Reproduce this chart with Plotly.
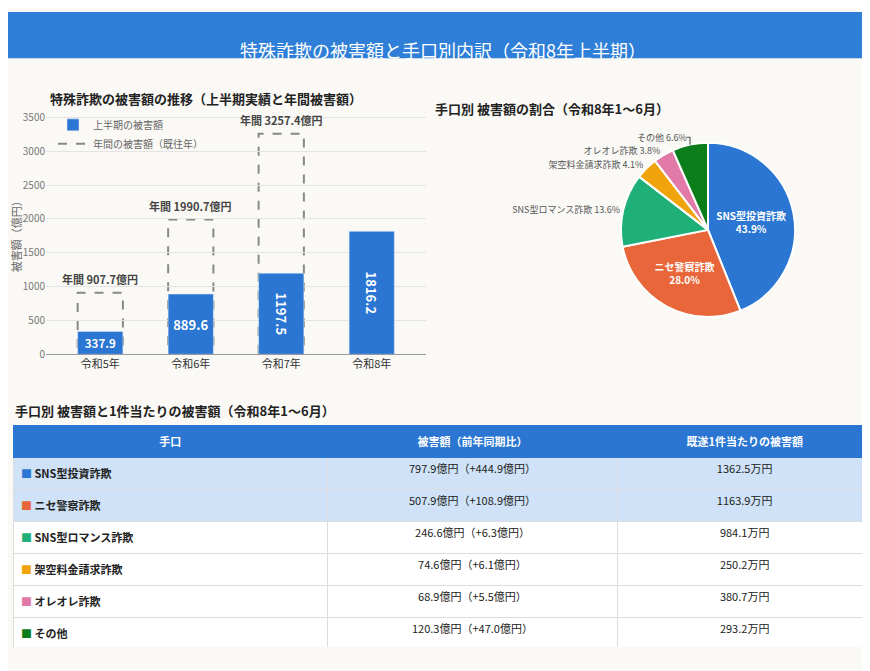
import plotly.graph_objects as go

years = ["令和5年", "令和6年", "令和7年", "令和8年"]
half = [337.9, 889.6, 1197.5, 1816.2]
annual = [907.7, 1990.7, 3257.4, None]

pie_labels = ["SNS型投資詐欺", "ニセ警察詐欺", "SNS型ロマンス詐欺", "架空料金請求詐欺", "オレオレ詐欺", "その他"]
pie_values = [797.9, 507.9, 246.6, 74.6, 68.9, 120.3]
colors = ["#2a76d2", "#e8663a", "#1fb07a", "#f0a30a", "#e27aa8", "#0b7d1a"]

t_method = pie_labels + ["合計"]
t_amount = ["797.9億円（+444.9億円）", "507.9億円（+108.9億円）", "246.6億円（+6.3億円）",
            "74.6億円（+6.1億円）", "68.9億円（+5.5億円）", "120.3億円（+47.0億円）",
            "<b>1816.2億円（+618.8億円）</b>"]
t_per = ["1362.5万円", "1163.9万円", "984.1万円", "250.2万円", "380.7万円", "293.2万円", "<b>840.0万円</b>"]

FONT = "Noto Sans CJK JP"
W, H = 870, 671
def py(v): return 1 - v / H
def px(v): return v / W

fig = go.Figure()
fig.add_trace(go.Bar(x=list(range(4)), y=half, width=0.5, marker_color="#2a76d2",
                     name="上半期の被害額", text=[f"<b>{v}</b>" for v in half],
                     textposition="inside", insidetextanchor="middle",
                     textfont=dict(color="white", size=13), xaxis="x", yaxis="y"))
fig.add_trace(go.Scatter(x=[None], y=[None], mode="lines", name="年間の被害額（既往年）",
                         line=dict(color="#888", dash="dash", width=2)))
shapes = []
annots = []
for i, a in enumerate(annual):
    if a is None:
        continue
    shapes.append(dict(type="rect", xref="x", yref="y", x0=i - 0.25, x1=i + 0.25, y0=0, y1=a,
                       line=dict(color="#888", dash="dash", width=2), layer="below"))
    annots.append(dict(x=i, y=a, xref="x", yref="y", text=f"<b>年間 {a}億円</b>", showarrow=False,
                       yshift=14, font=dict(size=11, color="#444")))

fig.add_trace(go.Pie(labels=pie_labels, values=pie_values, sort=False, direction="clockwise",
                     marker=dict(colors=colors, line=dict(color="white", width=2)),
                     textinfo="label+percent",
                     texttemplate=["<b>%{label}<br>%{percent:.1%}</b>", "<b>%{label}<br>%{percent:.1%}</b>",
                                   "%{label} %{percent:.1%}", "%{label} %{percent:.1%}",
                                   "%{label} %{percent:.1%}", "%{label} %{percent:.1%}"],
                     textposition=["inside", "inside", "outside", "outside", "outside", "outside"],
                     insidetextorientation="horizontal",
                     insidetextfont=dict(color="white", size=10),
                     outsidetextfont=dict(color="#555", size=9),
                     showlegend=False,
                     domain=dict(x=[px(612), px(788)], y=[py(310), py(133)])))

def sq(i):
    if i < len(colors):
        return f"<span style='color:{colors[i]}'>■</span> <b>{t_method[i]}</b>"
    return "<b>合計</b>"

fills = []
for i in range(7):
    fills.append("#cfe2f7" if i < 2 else ("#eef0ec" if i == 6 else "white"))
fig.add_trace(go.Table(
    domain=dict(x=[px(5), px(865)], y=[py(646), py(420)]),
    columnwidth=[315, 290, 255],
    header=dict(values=["<b>手口</b>", "<b>被害額（前年同期比）</b>", "<b>既遂1件当たりの被害額</b>"],
                fill_color="#2a76d2", font=dict(color="white", size=11, family=FONT),
                align="center", height=30, line=dict(color="#2a76d2")),
    cells=dict(values=[[sq(i) for i in range(7)], t_amount, t_per],
               fill_color=[fills, fills, fills], align=["left", "center", "center"],
               font=dict(color="#222", size=11, family=FONT), height=28,
               line=dict(color="#dddddd"))))

shapes.append(dict(type="rect", xref="paper", yref="paper", x0=0, x1=1, y0=py(47), y1=1,
                   fillcolor="#2f7fd8", line_width=0, layer="below"))
annots += [
    dict(x=0.5, y=py(23), xref="paper", yref="paper", text="特殊詐欺の被害額と手口別内訳（令和8年上半期）",
         showarrow=False, font=dict(color="white", size=18)),
    dict(x=px(40), y=py(76), xref="paper", yref="paper", xanchor="left",
         text="<b>特殊詐欺の被害額の推移（上半期実績と年間被害額）</b>", showarrow=False, font=dict(size=13, color="#222")),
    dict(x=px(663), y=py(86), xref="paper", yref="paper",
         text="<b>手口別 被害額の割合（令和8年1〜6月）</b>", showarrow=False, font=dict(size=13, color="#222")),
    dict(x=px(5), y=py(405), xref="paper", yref="paper", xanchor="left",
         text="<b>手口別 被害額と1件当たりの被害額（令和8年1〜6月）</b>", showarrow=False, font=dict(size=13, color="#222")),
]

fig.update_layout(
    width=W, height=H, margin=dict(l=0, r=0, t=0, b=0),
    paper_bgcolor="#faf9f5", plot_bgcolor="#faf9f5",
    font=dict(family=FONT, color="#333"),
    xaxis=dict(domain=[px(38), px(418)], tickmode="array", tickvals=list(range(4)), ticktext=years,
               range=[-0.6, 3.6], showline=True, linecolor="#999", tickfont=dict(size=11, color="#333")),
    yaxis=dict(domain=[py(348), py(103)], range=[0, 3560], dtick=500, gridcolor="#e4e4e4",
               tickfont=dict(size=10, color="#777"), zeroline=False,
               title=dict(text="被害額（億円）", font=dict(size=11, color="#666"), standoff=4)),
    legend=dict(x=px(45), y=py(100), xanchor="left", yanchor="top", bgcolor="rgba(0,0,0,0)",
                font=dict(size=10, color="#666"), tracegroupgap=0),
    shapes=shapes, annotations=annots, bargap=0.5,
)
fig.write_html("out.html")
